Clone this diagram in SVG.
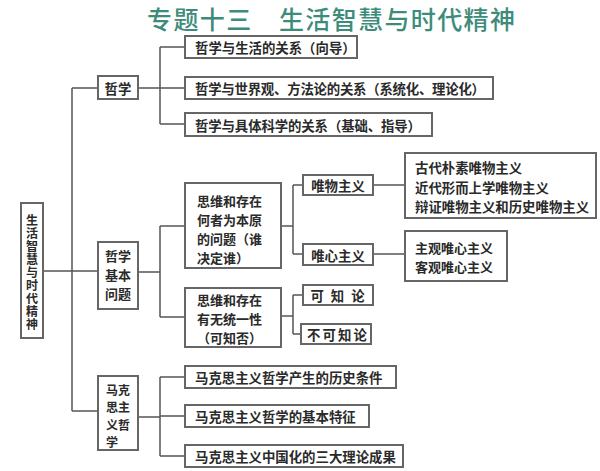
<svg xmlns="http://www.w3.org/2000/svg" width="600" height="471" viewBox="0 0 600 471">
<style>
.box{fill:#fff;stroke:#666;stroke-width:2}
.ln{fill:none;stroke:#555;stroke-width:1.5}
.t{font-family:"Noto Sans CJK SC","Noto Sans",sans-serif;font-size:13.4px;font-weight:700;fill:#2a2a2a;dominant-baseline:central}
.m{font-size:13px}
.s{font-size:12px}
.v{font-size:12px;writing-mode:vertical-rl;letter-spacing:1.1px}
.c{text-anchor:middle}
.title{font-family:"Noto Sans CJK SC","Noto Sans",sans-serif;font-size:25px;font-weight:500;fill:#3d8c7b}
</style>
<rect width="600" height="471" fill="#fff"/>
<text class="title" x="147" y="29" textLength="368" lengthAdjust="spacing">专题十三　生活智慧与时代精神</text>
<g id="connectors">
<path class="ln" d="M72,88 V411 M72,88 H98 M43,271 H98 M72,411 H98"/>
<path class="ln" d="M138,88 H185 M160,47 V124 M160,47 H185 M160,124 H185"/>
<path class="ln" d="M138,272 H160 M160,226 V317 M160,226 H185 M160,317 H185"/>
<path class="ln" d="M281,226 H293 M293,185 V254 M293,185 H303 M293,254 H303"/>
<path class="ln" d="M373,185 H405 M373,254 H405"/>
<path class="ln" d="M281,316 H293 M293,295 V334 M293,295 H303 M293,334 H301"/>
<path class="ln" d="M138,417 H160 M160,377 V456 M160,377 H185 M160,416 H185 M160,456 H185"/>
</g>
<g id="root">
<rect class="box" x="21" y="203" width="22" height="135"/>
<text class="t v" x="32" y="214">生活智慧与时代精神</text>
</g>
<g id="zhexue">
<rect class="box" x="98" y="76" width="40" height="23"/>
<text class="t c" x="118" y="88">哲学</text>
</g>
<g id="zx1">
<rect class="box" x="185" y="36" width="172" height="22"/>
<text class="t" x="195" y="47">哲学与生活的关系（向导）</text>
</g>
<g id="zx2">
<rect class="box" x="185" y="77" width="308" height="22"/>
<text class="t" x="195" y="88" textLength="290" lengthAdjust="spacing">哲学与世界观、方法论的关系（系统化、理论化）</text>
</g>
<g id="zx3">
<rect class="box" x="185" y="113" width="247" height="23"/>
<text class="t" x="195" y="124.5" textLength="226" lengthAdjust="spacing">哲学与具体科学的关系（基础、指导）</text>
</g>
<g id="jiben">
<rect class="box" x="98" y="242" width="40" height="67"/>
<text class="t m c"><tspan x="118" y="255">哲学</tspan><tspan x="118" y="274">基本</tspan><tspan x="118" y="293">问题</tspan></text>
</g>
<g id="benyuan">
<rect class="box" x="185" y="183" width="96" height="85"/>
<text class="t m"><tspan x="197" y="200">思维和存在</tspan><tspan x="197" y="219">何者为本原</tspan><tspan x="197" y="238">的问题（谁</tspan><tspan x="197" y="257">决定谁）</tspan></text>
</g>
<g id="tongyi">
<rect class="box" x="185" y="288" width="96" height="59"/>
<text class="t m"><tspan x="197" y="299">思维和存在</tspan><tspan x="197" y="318">有无统一性</tspan><tspan x="197" y="337">（可知否）</tspan></text>
</g>
<g id="weiwu">
<rect class="box" x="303" y="175" width="70" height="20"/>
<text class="t c" x="338" y="185">唯物主义</text>
</g>
<g id="weixin">
<rect class="box" x="303" y="244" width="70" height="21"/>
<text class="t c" x="338" y="254.5">唯心主义</text>
</g>
<g id="kezhi">
<rect class="box" x="303" y="285" width="70" height="20"/>
<text class="t c" x="341" y="295" letter-spacing="7">可知论</text>
</g>
<g id="bukezhi">
<rect class="box" x="301" y="324" width="70" height="20"/>
<text class="t" x="307" y="334" textLength="60" lengthAdjust="spacing">不可知论</text>
</g>
<g id="weiwu-detail">
<rect class="box" x="405" y="153" width="191" height="65"/>
<text class="t"><tspan x="415" y="167">古代朴素唯物主义</tspan><tspan x="415" y="186.5">近代形而上学唯物主义</tspan><tspan x="415" y="206">辩证唯物主义和历史唯物主义</tspan></text>
</g>
<g id="weixin-detail">
<rect class="box" x="405" y="231" width="102" height="50"/>
<text class="t m"><tspan x="415" y="246.5">主观唯心主义</tspan><tspan x="415" y="265.5">客观唯心主义</tspan></text>
</g>
<g id="makesi">
<rect class="box" x="98" y="376" width="40" height="74"/>
<text class="t s"><tspan x="106" y="388.5">马克</tspan><tspan x="106" y="406">思主</tspan><tspan x="106" y="423.5">义哲</tspan><tspan x="106" y="441">学</tspan></text>
</g>
<g id="mk1">
<rect class="box" x="185" y="366" width="211" height="22"/>
<text class="t" x="195" y="377">马克思主义哲学产生的历史条件</text>
</g>
<g id="mk2">
<rect class="box" x="185" y="405" width="184" height="22"/>
<text class="t" x="195" y="416">马克思主义哲学的基本特征</text>
</g>
<g id="mk3">
<rect class="box" x="185" y="445" width="218" height="22"/>
<text class="t" x="195" y="456">马克思主义中国化的三大理论成果</text>
</g>
</svg>
